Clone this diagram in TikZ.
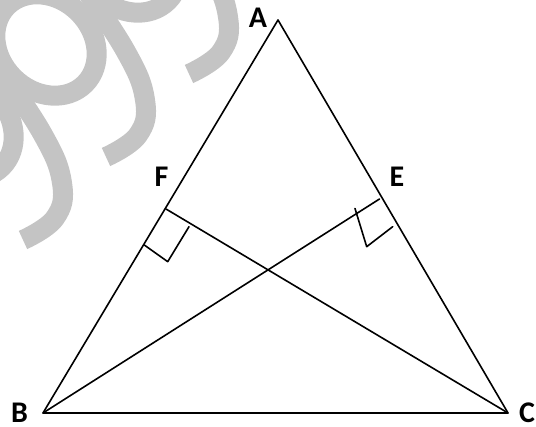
\documentclass[tikz,border=0pt]{standalone}
\usepackage{fontspec}
\setmainfont{Carlito}
\definecolor{wmgray}{RGB}{196,196,196}
\begin{document}
\begin{tikzpicture}[x=1pt,y=1pt,
  edge/.style={line width=1.6pt,line cap=round,line join=round},
  lbl/.style={font=\fontsize{30}{30}\selectfont\bfseries,inner sep=0pt},
  wmstroke/.style={draw=wmgray,line width=20pt,line cap=butt}]
\useasboundingbox (0,0) rectangle (536,427);
% watermark (background)
\begin{scope}
\clip (0,0) rectangle (536,427);
\begin{scope}[shift={(0,427)},yscale=-1]
\foreach \o in {-1,0,1}{
  \begin{scope}[shift={({83*\o},{-83*\o})}]
    \draw[wmstroke,rotate around={45:(46,45)}] (46,45) ellipse [x radius=55, y radius=46];
    \draw[wmstroke] plot[smooth,tension=0.7] coordinates {(75,-25) (125,50) (145,100) (138,135) (106,157)};
  \end{scope}
}
\end{scope}
\end{scope}
\coordinate (A) at (278,407);
\coordinate (B) at (43,14);
\coordinate (C) at (508,14);
\coordinate (F) at (166,218);
\coordinate (E) at (379.5,228);
\coordinate (f1) at (144.3,182);
\coordinate (f2) at (167.7,165.3);
\coordinate (f3) at (189,200.3);
\coordinate (e1) at (355,218.5);
\coordinate (e2) at (366.7,180.3);
\coordinate (e3) at (392.7,200.3);
\draw[edge] (A) -- (B) -- (C) -- cycle;
\draw[edge] (B) -- (E);
\draw[edge] (C) -- (F);
\draw[edge] (f1) -- (f2) -- (f3);
\draw[edge] (e1) -- (e2) -- (e3);
\node[lbl] (lA) at (258,409) {A};
\node[lbl] (lF) at (161.5,250) {F};
\node[lbl] (lE) at (397,250) {E};
\node[lbl] (lB) at (19.5,14) {B};
\node[lbl] (lC) at (527,14) {C};
\end{tikzpicture}
\end{document}
